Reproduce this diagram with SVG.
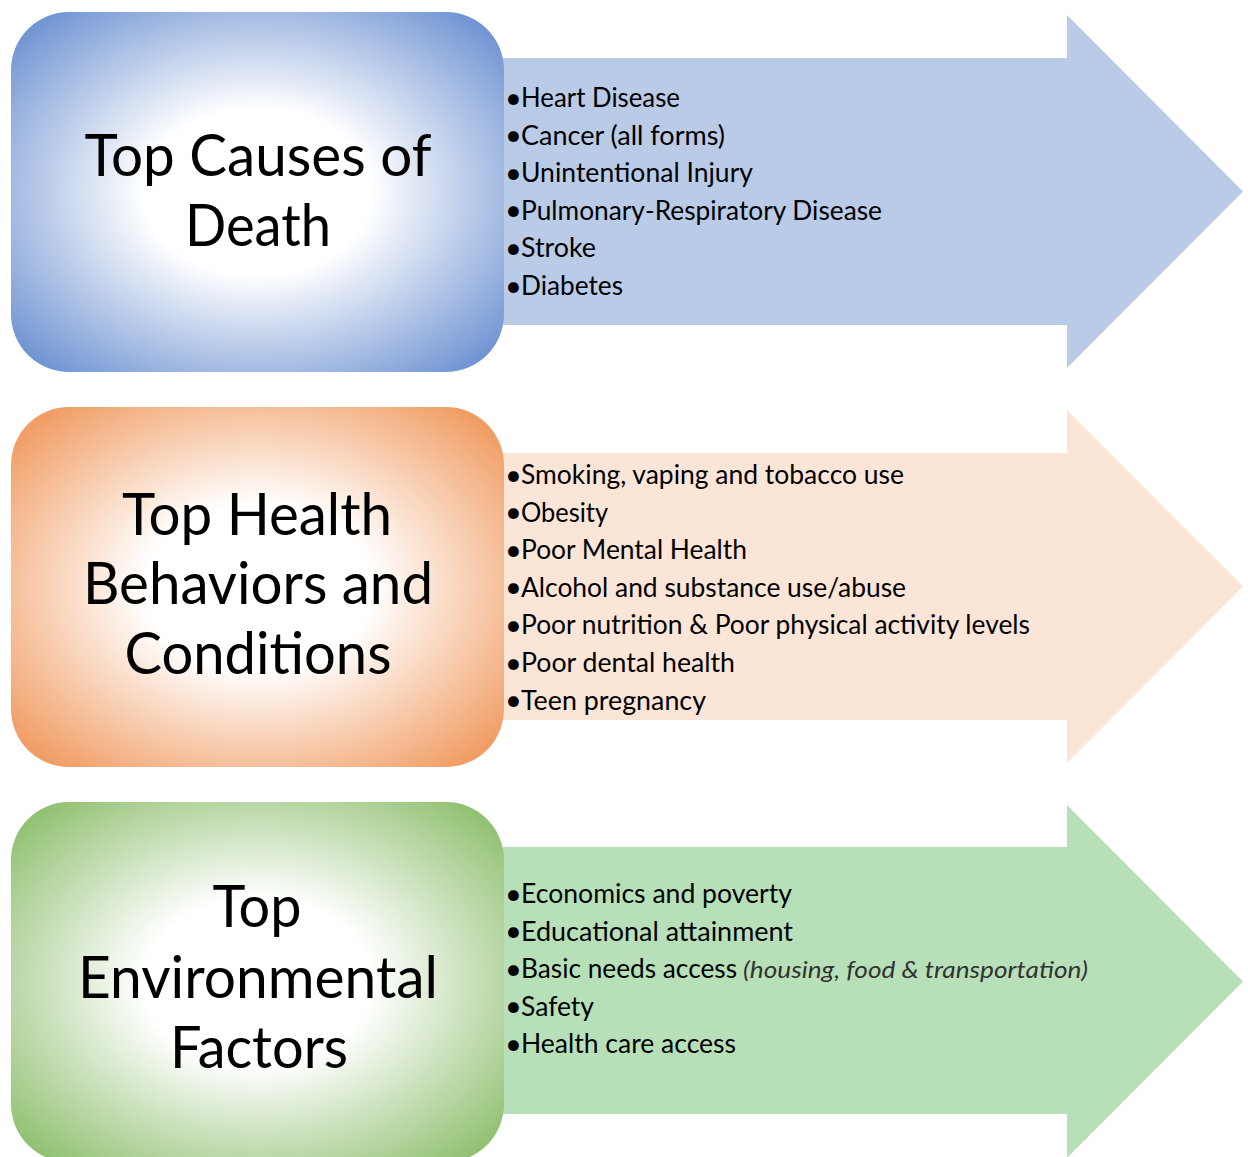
<svg xmlns="http://www.w3.org/2000/svg" width="1248" height="1157" viewBox="0 0 1248 1157">
  <defs>
    <radialGradient id="gBlue" cx="0.5" cy="0.5" r="0.72">
      <stop offset="0" stop-color="#ffffff"/>
      <stop offset="0.32" stop-color="#ffffff"/>
      <stop offset="1" stop-color="#5882CB"/>
    </radialGradient>
    <radialGradient id="gOrange" cx="0.5" cy="0.5" r="0.72">
      <stop offset="0" stop-color="#ffffff"/>
      <stop offset="0.32" stop-color="#ffffff"/>
      <stop offset="1" stop-color="#EE8B47"/>
    </radialGradient>
    <radialGradient id="gGreen" cx="0.5" cy="0.5" r="0.72">
      <stop offset="0" stop-color="#ffffff"/>
      <stop offset="0.32" stop-color="#ffffff"/>
      <stop offset="1" stop-color="#7EB65A"/>
    </radialGradient>
  </defs>
  <style>
    .title { font-family: Lato, "Open Sans", "Liberation Sans", sans-serif; font-size: 59px; fill: #000; text-anchor: middle; }
    .item { font-family: Lato, "Open Sans", "Liberation Sans", sans-serif; font-size: 26px; fill: #000; }
    .bul { font-family: Lato, "Open Sans", "Liberation Sans", sans-serif; font-size: 29px; fill: #000; }
    .note { font-family: Lato, "Open Sans", "Liberation Sans", sans-serif; font-size: 23px; font-style: italic; fill: #333; }
  </style>
  <rect width="1248" height="1157" fill="#ffffff"/>

  <g id="connectors">
    <g id="arrow-death">
      <polygon points="503,58 1067,58 1067,15 1243,191.5 1067,368 1067,325 503,325" fill="#B9CBE7"/>
      <text class="bul" x="505" y="107.5">•</text>
      <text class="item" x="521" y="107" textLength="159" lengthAdjust="spacingAndGlyphs">Heart Disease</text>
      <text class="bul" x="505" y="145.1">•</text>
      <text class="item" x="521" y="144.6" textLength="204" lengthAdjust="spacingAndGlyphs">Cancer (all forms)</text>
      <text class="bul" x="505" y="182.7">•</text>
      <text class="item" x="521" y="182.2" textLength="232" lengthAdjust="spacingAndGlyphs">Unintentional Injury</text>
      <text class="bul" x="505" y="220.3">•</text>
      <text class="item" x="521" y="219.8" textLength="361" lengthAdjust="spacingAndGlyphs">Pulmonary-Respiratory Disease</text>
      <text class="bul" x="505" y="257.9">•</text>
      <text class="item" x="521" y="257.4" textLength="75" lengthAdjust="spacingAndGlyphs">Stroke</text>
      <text class="bul" x="505" y="295.5">•</text>
      <text class="item" x="521" y="295" textLength="102" lengthAdjust="spacingAndGlyphs">Diabetes</text>
    </g>
    <g id="arrow-behaviors">
      <polygon points="503,453 1067,453 1067,410 1243,586.5 1067,763 1067,720 503,720" fill="#FBE5D7"/>
      <text class="bul" x="505" y="484.5">•</text>
      <text class="item" x="521" y="484" textLength="383" lengthAdjust="spacingAndGlyphs">Smoking, vaping and tobacco use</text>
      <text class="bul" x="505" y="522.1">•</text>
      <text class="item" x="521" y="521.6" textLength="87" lengthAdjust="spacingAndGlyphs">Obesity</text>
      <text class="bul" x="505" y="559.7">•</text>
      <text class="item" x="521" y="559.2" textLength="226" lengthAdjust="spacingAndGlyphs">Poor Mental Health</text>
      <text class="bul" x="505" y="597.3">•</text>
      <text class="item" x="521" y="596.8" textLength="385" lengthAdjust="spacingAndGlyphs">Alcohol and substance use/abuse</text>
      <text class="bul" x="505" y="634.9">•</text>
      <text class="item" x="521" y="634.4" textLength="509" lengthAdjust="spacingAndGlyphs">Poor nutrition &amp; Poor physical activity levels</text>
      <text class="bul" x="505" y="672.5">•</text>
      <text class="item" x="521" y="672" textLength="214" lengthAdjust="spacingAndGlyphs">Poor dental health</text>
      <text class="bul" x="505" y="710.1">•</text>
      <text class="item" x="521" y="709.6" textLength="185" lengthAdjust="spacingAndGlyphs">Teen pregnancy</text>
    </g>
    <g id="arrow-environment">
      <polygon points="503,847 1067,847 1067,805 1243,981.5 1067,1158 1067,1114 503,1114" fill="#B8E0B8"/>
      <text class="bul" x="505" y="903.5">•</text>
      <text class="item" x="521" y="903" textLength="271" lengthAdjust="spacingAndGlyphs">Economics and poverty</text>
      <text class="bul" x="505" y="941.1">•</text>
      <text class="item" x="521" y="940.6" textLength="272" lengthAdjust="spacingAndGlyphs">Educational attainment</text>
      <text class="bul" x="505" y="978.7">•</text>
      <text class="item" x="521" y="978.2" textLength="216" lengthAdjust="spacingAndGlyphs">Basic needs access</text>
      <text class="note" x="743" y="978.2" textLength="345" lengthAdjust="spacingAndGlyphs">(housing, food &amp; transportation)</text>
      <text class="bul" x="505" y="1016.3">•</text>
      <text class="item" x="521" y="1015.8" textLength="73" lengthAdjust="spacingAndGlyphs">Safety</text>
      <text class="bul" x="505" y="1053.9">•</text>
      <text class="item" x="521" y="1053.4" textLength="215" lengthAdjust="spacingAndGlyphs">Health care access</text>
    </g>
  </g>

  <g id="node-death">
    <rect x="11" y="12" width="493" height="360" rx="58" ry="58" fill="url(#gBlue)"/>
    <text class="title" x="258" y="176" textLength="347" lengthAdjust="spacingAndGlyphs">Top Causes of</text>
    <text class="title" x="258" y="246" textLength="146" lengthAdjust="spacingAndGlyphs">Death</text>
  </g>
  <g id="node-behaviors">
    <rect x="11" y="407" width="493" height="360" rx="58" ry="58" fill="url(#gOrange)"/>
    <text class="title" x="257" y="535" textLength="270" lengthAdjust="spacingAndGlyphs">Top Health</text>
    <text class="title" x="258" y="604" textLength="350" lengthAdjust="spacingAndGlyphs">Behaviors and</text>
    <text class="title" x="258" y="674" textLength="267" lengthAdjust="spacingAndGlyphs">Conditions</text>
  </g>
  <g id="node-environment">
    <rect x="11" y="802" width="493" height="360" rx="58" ry="58" fill="url(#gGreen)"/>
    <text class="title" x="257" y="927" textLength="89" lengthAdjust="spacingAndGlyphs">Top</text>
    <text class="title" x="258" y="998" textLength="360" lengthAdjust="spacingAndGlyphs">Environmental</text>
    <text class="title" x="259" y="1068" textLength="178" lengthAdjust="spacingAndGlyphs">Factors</text>
  </g>
</svg>
